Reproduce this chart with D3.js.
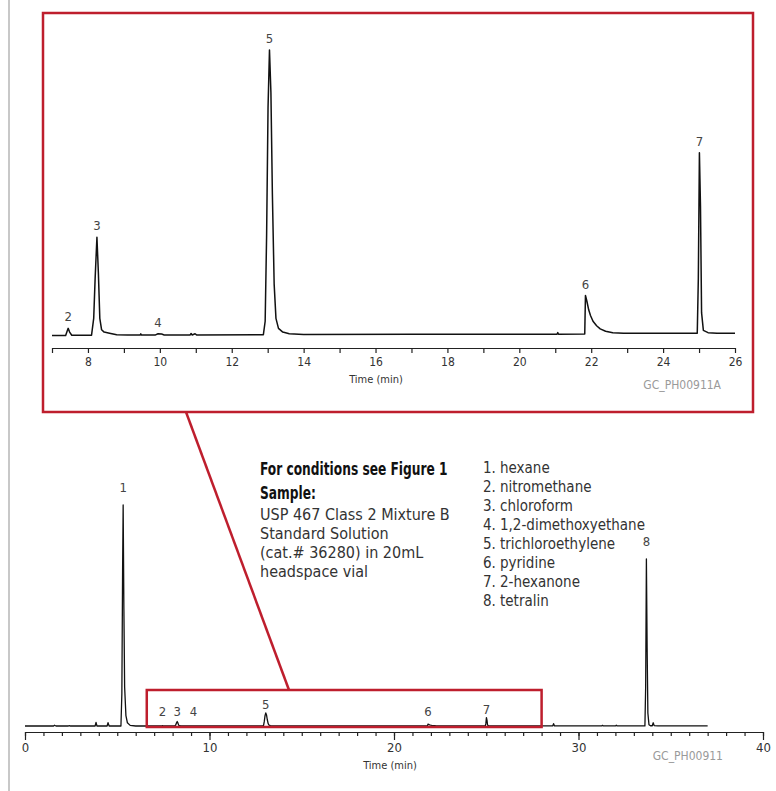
<!DOCTYPE html>
<html>
<head>
<meta charset="utf-8">
<script src="https://cdn.jsdelivr.net/npm/d3@7"></script>
<style>
	body { margin: 0; background: #ffffff; }
	text { font-family: "Liberation Sans Narrow", "DejaVu Sans Condensed", "Roboto Condensed", sans-serif; font-stretch: condensed; }
	.axis path, .axis line { stroke: #222; stroke-width: 1.2; }
	.axis text { fill: #333; }
</style>
</head>
<body>
<script>
// data: chromatogram trace as [time (min), signal] pairs
	// the part shown in the zoomed panel (7 - 26 min)
	var zoomTrace = [
		[7.0, 0], [7.38, 0], [7.42, 1.5], [7.45, 2.5], [7.49, 1.2], [7.55, 0.1],
		[8.1, 0.1], [8.16, 6], [8.2, 20], [8.25, 34.4], [8.29, 22], [8.33, 6], [8.38, 2],
		[8.45, 1.2], [8.6, 0.8], [8.8, 0.3], [9.1, 0.15],
		[9.45, 0.15], [9.47, 0.6], [9.49, 0.15],
		[9.88, 0.2], [9.95, 0.6], [10.05, 0.5], [10.12, 0.2],
		[10.84, 0.2], [10.87, 0.7], [10.9, 0.2], [10.98, 0.6], [11.02, 0.2],
		[12.88, 0.3], [12.93, 5], [12.97, 35], [13.01, 80], [13.05, 100], [13.09, 85],
		[13.13, 50], [13.18, 18], [13.23, 6], [13.3, 2.5], [13.42, 1.2], [13.6, 0.6],
		[14.0, 0.35], [17.0, 0.4],
		[21.05, 0.45], [21.07, 1.0], [21.09, 0.45],
		[21.82, 0.5], [21.84, 14], [21.88, 12], [21.93, 9], [21.98, 7], [22.05, 5],
		[22.15, 3.4], [22.25, 2.3], [22.4, 1.5], [22.6, 1.0], [22.9, 0.75],
		[24.95, 0.75], [24.98, 20], [25.01, 64], [25.04, 45], [25.07, 8], [25.12, 1.8],
		[25.25, 1.0], [25.5, 0.8], [26.0, 0.8]
	];
	// before the zoomed range
	var earlyTrace = [
		[0, 0], [1.55, 0], [1.6, 6], [1.68, 0], [2.35, 0], [2.4, 3], [2.45, 0],
		[3.8, 0], [3.85, 28], [3.9, 0], [4.45, 0], [4.5, 25], [4.56, 0],
		[5.2, 0], [5.25, 250], [5.29, 1200], [5.32, 1700], [5.36, 900], [5.4, 300],
		[5.47, 80], [5.55, 25], [5.7, 5], [6.0, 0], [6.99, 0]
	];
	// after the zoomed range
	var lateTrace = [
		[28.6, 0.5], [28.65, 18], [28.7, 0.5],
		[31.25, 0.5], [31.3, 5], [31.35, 0.5], [32.0, 0.5], [32.05, 6], [32.1, 0.5],
		[33.6, 0.5], [33.64, 300], [33.68, 1285], [33.72, 600], [33.76, 100], [33.82, 10],
		[33.9, 2], [34.0, 2], [34.05, 25], [34.1, 3], [34.3, 1], [37.0, 1]
	];

	// peaks: number, retention time, apex signal
	var peakNums = [1, 2, 3, 4, 5, 6, 7, 8],
		peakTimes = [5.32, 7.45, 8.25, 9.95, 13.05, 21.84, 25.01, 33.68],
		peakApex = [1700, 2.5, 34.4, 0.6, 100, 14, 64, 1285];

	var compounds = ['hexane', 'nitromethane', 'chloroform', '1,2-dimethoxyethane',
		'trichloroethylene', 'pyridine', '2-hexanone', 'tetralin'];

	var zoomTicks = d3.range(7, 27),
		fullTicks = d3.range(0, 41),
		fullMajor = [0, 10, 20, 30, 40];

	var noteBold = ['For conditions see Figure 1', 'Sample:'],
		noteLines = ['USP 467 Class 2 Mixture B', 'Standard Solution', '(cat.# 36280) in 20mL', 'headspace vial'];

// parameters for layout
	var width = 776,
		height = 791,
		red = '#be1e2d';

	var svg = d3.select('body').append('svg')
		.attr('width', width)
		.attr('height', height);

	// page margin line
	svg.append('line')
		.attr('x1', 9).attr('x2', 9)
		.attr('y1', 0).attr('y2', height)
		.style('stroke', '#c8c8c8')
		.style('stroke-width', 2);

// zoomed panel (top)
	var xTop = d3.scaleLinear().domain([7, 26]).range([52, 735]),
		yTop = d3.scaleLinear().domain([0, 100]).range([335.5, 50]);

	var lineTop = d3.line()
		.x(function(d) { return xTop(d[0]); })
		.y(function(d) { return yTop(d[1]); });

	svg.append('path')
		.datum(zoomTrace)
		.attr('d', lineTop)
		.style('fill', 'none')
		.style('stroke', '#111')
		.style('stroke-width', 1.5)
		.style('stroke-linejoin', 'round');

	var axTop = svg.append('g')
		.attr('class', 'axis')
		.attr('transform', 'translate(0,348)')
		.call(d3.axisBottom(xTop)
			.tickValues(zoomTicks)
			.tickSize(5)
			.tickSizeOuter(0)
			.tickPadding(4)
			.tickFormat(function(d) { return d % 2 == 0 ? d : ''; }));
	axTop.selectAll('text').style('font-size', '12px');

	svg.append('text')
		.attr('x', 376).attr('y', 383)
		.attr('text-anchor', 'middle')
		.style('font-size', '11px')
		.style('fill', '#333')
		.text('Time (min)');

	svg.append('text')
		.attr('x', 721).attr('y', 389)
		.attr('text-anchor', 'end')
		.style('font-size', '12px')
		.style('fill', '#9a9a9a')
		.text('GC_PH00911A');

	// peak labels inside the zoomed range
	svg.selectAll('.ptop')
		.data(peakNums.filter(function(d, i) { return peakTimes[i] > 7 && peakTimes[i] < 26; }))
	  .enter().append('text')
		.attr('class', 'ptop')
		.attr('x', function(d) { return xTop(peakTimes[d - 1]); })
		.attr('y', function(d) { return yTop(peakApex[d - 1]) - 7; })
		.attr('text-anchor', 'middle')
		.style('font-size', '13px')
		.style('fill', '#444')
		.text(function(d) { return d; });

	// outline around zoomed panel
	svg.append('rect')
		.attr('x', 43).attr('y', 13)
		.attr('width', 710).attr('height', 399)
		.style('fill', 'none')
		.style('stroke', red)
		.style('stroke-width', 2.5);

// full chromatogram (bottom)
	var xBot = d3.scaleLinear().domain([0, 40]).range([25, 763]),
		yBot = d3.scaleLinear().domain([0, 1700]).range([726, 505]);

	var lineBot = d3.line()
		.x(function(d) { return xBot(d[0]); })
		.y(function(d) { return yBot(d[1]); });

	svg.append('path')
		.datum(earlyTrace.concat(zoomTrace, lateTrace))
		.attr('d', lineBot)
		.style('fill', 'none')
		.style('stroke', '#111')
		.style('stroke-width', 1.3)
		.style('stroke-linejoin', 'round');

	// minor and major ticks
	svg.append('g')
		.attr('class', 'axis')
		.attr('transform', 'translate(0,732)')
		.call(d3.axisBottom(xBot)
			.tickValues(fullTicks)
			.tickSize(4)
			.tickSizeOuter(0)
			.tickFormat(''));
	var axBot = svg.append('g')
		.attr('class', 'axis')
		.attr('transform', 'translate(0,732)')
		.call(d3.axisBottom(xBot)
			.tickValues(fullMajor)
			.tickSize(8)
			.tickSizeOuter(0)
			.tickPadding(3));
	axBot.select('.domain').remove();
	axBot.selectAll('text').style('font-size', '13px');

	svg.append('text')
		.attr('x', 390).attr('y', 769)
		.attr('text-anchor', 'middle')
		.style('font-size', '11px')
		.style('fill', '#333')
		.text('Time (min)');

	svg.append('text')
		.attr('x', 723).attr('y', 760)
		.attr('text-anchor', 'end')
		.style('font-size', '12px')
		.style('fill', '#9a9a9a')
		.text('GC_PH00911');

	// peak labels, small ones sit just over the baseline
	var nudge = { 4: -15 };
	svg.selectAll('.pbot')
		.data(peakNums)
	  .enter().append('text')
		.attr('class', 'pbot')
		.attr('x', function(d) { return xBot(peakTimes[d - 1]) + (nudge[d] || 0); })
		.attr('y', function(d) {
			var a = peakApex[d - 1];
			return Math.min(yBot(a) - (a > 500 ? 13 : 4), 716);
		})
		.attr('text-anchor', 'middle')
		.style('font-size', '13px')
		.style('fill', '#444')
		.text(function(d) { return d; });

	// box marking the zoomed range, and connector
	svg.append('rect')
		.attr('x', xBot(6.6)).attr('y', 690)
		.attr('width', xBot(28) - xBot(6.6)).attr('height', 37)
		.style('fill', 'none')
		.style('stroke', red)
		.style('stroke-width', 2.5);

	svg.append('line')
		.attr('x1', 186).attr('y1', 412)
		.attr('x2', 289).attr('y2', 690)
		.style('stroke', red)
		.style('stroke-width', 2.5);

// notes and compound list
	// the original bold face is narrower than what is installed, so squeeze it
	var notesBold = svg.append('g').attr('transform', 'translate(260,0) scale(0.8,1)');
	notesBold.selectAll('.nb')
		.data(noteBold)
	  .enter().append('text')
		.attr('y', function(d, i) { return 475 + i * 24; })
		.style('font-size', '17px')
		.style('font-weight', 'bold')
		.style('fill', '#111')
		.text(function(d) { return d; });

	var notes = svg.append('g').attr('transform', 'translate(260,0)');
	notes.selectAll('.nl')
		.data(noteLines)
	  .enter().append('text')
		.attr('y', function(d, i) { return 520 + i * 19; })
		.style('font-size', '16px')
		.style('fill', '#333')
		.text(function(d) { return d; });

	var list = svg.append('g').attr('transform', 'translate(483,0)');
	var items = list.selectAll('.cl')
		.data(compounds)
	  .enter().append('g')
		.attr('transform', function(d, i) { return 'translate(0,' + (473 + i * 19) + ')'; });
	items.append('text')
		.style('font-size', '15px')
		.style('fill', '#333')
		.text(function(d, i) { return (i + 1) + '.'; });
	items.append('text')
		.attr('x', 17)
		.style('font-size', '15px')
		.style('fill', '#333')
		.text(function(d) { return d; });
</script>
</body>
</html>
